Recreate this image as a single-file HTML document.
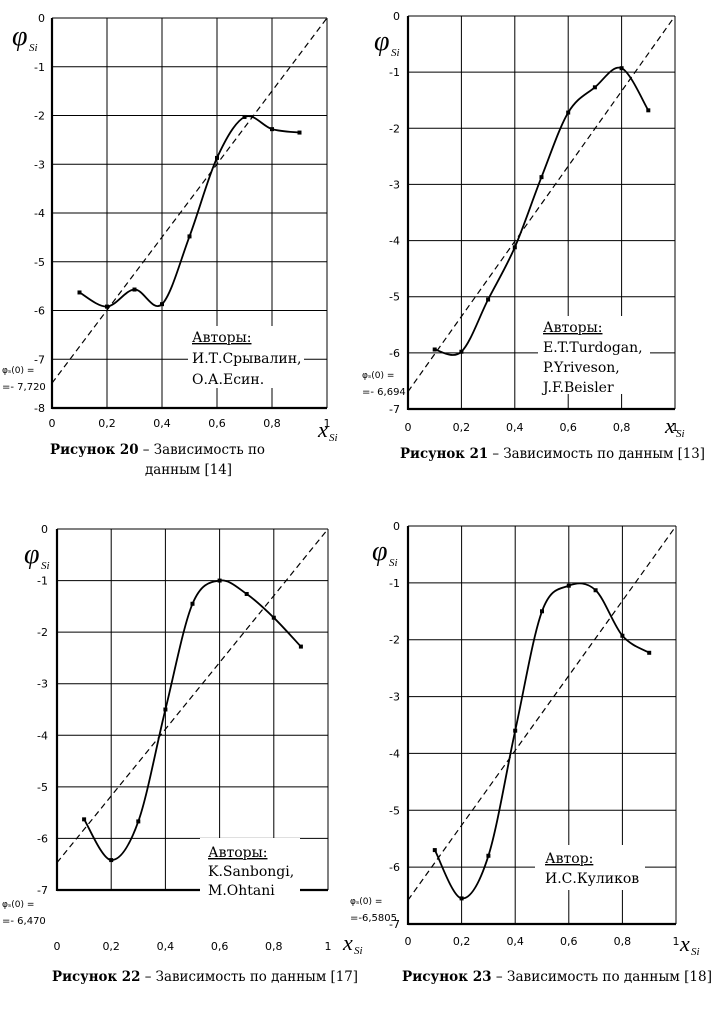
<!DOCTYPE html>
<html><head><meta charset="utf-8"><style>
html,body{margin:0;padding:0;background:#fff;}
svg{display:block;}
text{font-family:"DejaVu Sans","Liberation Sans",sans-serif;fill:#000;}
.s{font-family:"DejaVu Serif","Liberation Serif",serif;}
.l{font-family:"Liberation Serif",serif;}
</style></head><body>
<svg id="g" width="715" height="1021" xmlns="http://www.w3.org/2000/svg"></svg>
<script>
var NS="http://www.w3.org/2000/svg",svg=document.getElementById('g');
function el(t,a,txt){var e=document.createElementNS(NS,t);for(var k in a)e.setAttribute(k,a[k]);if(txt!==undefined)e.textContent=txt;svg.appendChild(e);return e;}
function spline(p){var d="M"+p[0][0]+","+p[0][1];for(var i=0;i<p.length-1;i++){var p0=p[i-1]||p[i],p1=p[i],p2=p[i+1],p3=p[i+2]||p2;var t=0.5/3;
var c1=[p1[0]+(p2[0]-p0[0])*t,p1[1]+(p2[1]-p0[1])*t],c2=[p2[0]-(p3[0]-p1[0])*t,p2[1]-(p3[1]-p1[1])*t];
d+=" C"+c1[0].toFixed(1)+","+c1[1].toFixed(1)+" "+c2[0].toFixed(1)+","+c2[1].toFixed(1)+" "+p2[0].toFixed(1)+","+p2[1].toFixed(1);}return d;}
var charts=[
{x0:52,x1:327,y0:18,yb:408,n:8,lx:45,xly:427,d0:-7.49,data:[-5.63,-5.92,-5.57,-5.87,-4.48,-2.87,-2.03,-2.28,-2.35],
 phi:[12,45],xl:[318,437],note:[2,373,"=- 7,720"],box:[188,326,116,62],auth:[192,["Авторы:","И.Т.Срывалин,","О.А.Есин."],342,21],
 cap:[[50,454,"Рисунок 20"," – Зависимость по",215],[145,474,"","данным [14]",87]]},
{x0:408,x1:675,y0:16,yb:409,n:7,lx:400,xly:431,d0:-6.69,data:[-5.94,-5.98,-5.05,-4.12,-2.87,-1.72,-1.27,-0.93,-1.68],
 phi:[374,50],xl:[665,433],note:[362,378,"=- 6,694"],box:[538,316,112,78],auth:[543,["Авторы:","E.T.Turdogan,","P.Yriveson,","J.F.Beisler"],332,20],
 cap:[[400,458,"Рисунок 21"," – Зависимость  по данным [13]",305]]},
{x0:57,x1:328,y0:529,yb:890,n:7,lx:48,xly:950,d0:-6.47,data:[-5.63,-6.42,-5.67,-3.5,-1.45,-1.0,-1.26,-1.72,-2.28],
 phi:[24,563],xl:[343,950],note:[2,907,"=- 6,470"],box:[200,838,100,62],auth:[208,["Авторы:","K.Sanbongi,","M.Ohtani"],857,19],
 cap:[[52,981,"Рисунок 22"," – Зависимость  по данным [17]",306]]},
{x0:408,x1:676,y0:526,yb:924,n:7,lx:400,xly:945,d0:-6.58,data:[-5.7,-6.55,-5.8,-3.6,-1.5,-1.05,-1.13,-1.93,-2.23],
 phi:[372,560],xl:[680,951],note:[350,904,"=-6,5805"],box:[535,845,110,45],auth:[545,["Автор:","И.С.Куликов"],863,20],
 cap:[[402,981,"Рисунок 23"," – Зависимость по данным [18]",310]]}];
charts.forEach(function(c){
 var sy=(c.yb-c.y0)/c.n,sx=(c.x1-c.x0);
 function X(v){return c.x0+v*sx;}function Y(v){return c.y0-v*sy;}
 for(var i=0;i<=c.n;i++){var y=c.y0+i*sy;el('line',{x1:c.x0,y1:y,x2:c.x1,y2:y,stroke:'#000','stroke-width':1});
  el('text',{x:c.lx,y:y+4,'font-size':11,'text-anchor':'end'},i==0?"0":"-"+i);}
 for(var j=0;j<=5;j++){var x=c.x0+j*sx/5;el('line',{x1:x,y1:c.y0,x2:x,y2:c.yb,stroke:'#000','stroke-width':1});
  el('text',{x:x,y:c.xly,'font-size':11,'text-anchor':'middle'},j==0?"0":j==5?"1":"0,"+(2*j));}
 el('line',{x1:c.x0,y1:c.y0,x2:c.x0,y2:c.yb+1,stroke:'#000','stroke-width':2.2});
 el('line',{x1:c.x0,y1:c.yb,x2:c.x1,y2:c.yb,stroke:'#000','stroke-width':2.2});
 el('rect',{x:c.box[0],y:c.box[1],width:c.box[2],height:c.box[3],fill:'#fff'});
 c.auth[1].forEach(function(t,k){var e=el('text',{x:c.auth[0],y:c.auth[2]+k*c.auth[3],'font-size':14,'class':'s','font-weight':'300'},t);if(k==0)e.setAttribute('text-decoration','underline');});
 el('line',{x1:X(0),y1:Y(c.d0),x2:X(1),y2:Y(0),stroke:'#000','stroke-width':1.2,'stroke-dasharray':'6,4'});
 var pts=c.data.map(function(v,i){return [X(0.1*(i+1)),Y(v)];});
 el('path',{d:spline(pts),fill:'none',stroke:'#000','stroke-width':1.8});
 pts.forEach(function(p){el('rect',{x:p[0]-2,y:p[1]-2,width:4,height:4,fill:'#000'});});
 el('text',{x:c.phi[0],y:c.phi[1],'font-size':28,'font-style':'italic','class':'l'},"φ");
 el('text',{x:c.phi[0]+17,y:c.phi[1]+6,'font-size':11,'font-style':'italic','class':'l'},"Si");
 el('text',{x:c.xl[0],y:c.xl[1],'font-size':22,'font-style':'italic','class':'l'},"x");
 el('text',{x:c.xl[0]+11,y:c.xl[1]+4,'font-size':11,'font-style':'italic','class':'l'},"Si");
 el('text',{x:c.note[0],y:c.note[1],'font-size':9},"φ\u209B(0) =");
 el('text',{x:c.note[0],y:c.note[1]+17,'font-size':10},c.note[2]);
 c.cap.forEach(function(p){var e=el('text',{x:p[0],y:p[1],'font-size':14,'class':'s',textLength:p[4],lengthAdjust:'spacingAndGlyphs'});
  var b=document.createElementNS(NS,'tspan');b.setAttribute('font-weight','bold');b.textContent=p[2];e.appendChild(b);
  var r=document.createElementNS(NS,'tspan');r.textContent=p[3];e.appendChild(r);});
});
</script>
</body></html>
